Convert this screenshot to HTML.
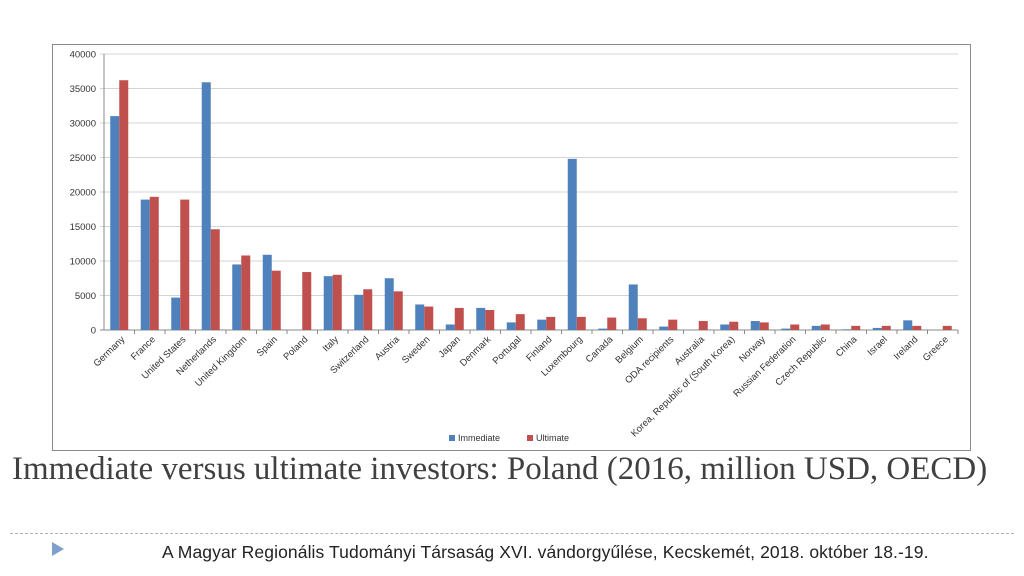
<!DOCTYPE html>
<html><head><meta charset="utf-8"><style>
body{margin:0;width:1024px;height:576px;background:#fff;overflow:hidden;position:relative;font-family:"Liberation Sans",sans-serif}
#title{position:absolute;left:12px;top:450px;font-family:"Liberation Serif",serif;font-size:33px;line-height:38px;color:#404040;width:1000px}
#dash{position:absolute;left:10px;top:533px;width:1004px;border-top:1px dashed #b0b0b0}
#tri{position:absolute;left:52px;top:542px;width:0;height:0;border-top:7px solid transparent;border-bottom:7px solid transparent;border-left:12px solid #7fa0cc}
#foot{position:absolute;left:162px;top:542px;font-size:17.5px;color:#222;letter-spacing:0.1px}
</style></head><body>
<svg id="chart" width="1024" height="460" style="position:absolute;left:0;top:0"></svg>
<div id="title">Immediate versus ultimate investors: Poland (2016, million USD, OECD)</div>
<div id="dash"></div>
<div id="tri"></div>
<div id="foot">A Magyar Regionális Tudományi Társaság XVI. vándorgyűlése, Kecskemét, 2018. október 18.-19.</div>
<script>
const categories=["Germany","France","United States","Netherlands","United Kingdom","Spain","Poland","Italy","Switzerland","Austria","Sweden","Japan","Denmark","Portugal","Finland","Luxembourg","Canada","Belgium","ODA recipients","Australia","Korea, Republic of (South Korea)","Norway","Russian Federation","Czech Republic","China","Israel","Ireland","Greece"];
const immediate=[31000,18900,4700,35900,9500,10900,0,7800,5100,7500,3700,800,3200,1100,1500,24800,200,6600,500,0,800,1300,200,600,100,300,1400,0];
const ultimate=[36200,19300,18900,14600,10800,8600,8400,8000,5900,5600,3400,3200,2900,2300,1900,1900,1800,1700,1500,1300,1200,1100,800,800,600,600,600,600];
const ticks=[0,5000,10000,15000,20000,25000,30000,35000,40000];
const NS="http://www.w3.org/2000/svg";
const svg=document.getElementById('chart');
const x0=104,x1=958,y0=330,yTop=54,maxV=40000;
const bw=(x1-x0)/categories.length;
function y(v){return y0-(v/maxV)*(y0-yTop);}
function xc(i){return x0+bw*(i+0.5);}
function mk(t,a,p){const e=document.createElementNS(NS,t);for(const k in a)e.setAttribute(k,a[k]);(p||svg).appendChild(e);return e;}
const frame=mk('rect',{x:52.5,y:44.5,width:918,height:406,fill:'#fff',stroke:'#8a8a8a'});


ticks.forEach(t=>{
  const g=mk('line',{x1:x0-4,x2:x1,y1:y(t),y2:y(t),stroke:t===0?'#888':'#d4d4d4'});
  
  
  const tx=mk('text',{x:x0-8,y:y(t)+3.5,'text-anchor':'end','font-size':9.5,fill:'#333'});
  tx.textContent=t;
  
  
});
const ax=mk('line',{x1:x0,x2:x0,y1:yTop,y2:y0,stroke:'#888'});


categories.forEach((c,i)=>{
  const cx=xc(i);
  const tk=mk('line',{x1:x0+bw*(i+1),x2:x0+bw*(i+1),y1:y0,y2:y0+4,stroke:'#888'});
  
  
  const b1=mk('rect',{x:cx-9,y:y(immediate[i]),width:9,height:y0-y(immediate[i]),fill:'#4f81bd'});
  
  
  const b2=mk('rect',{x:cx,y:y(ultimate[i]),width:9,height:y0-y(ultimate[i]),fill:'#c0504d'});
  
  
  const lx=cx+6,ly=y0+10;
  const t=mk('text',{x:lx,y:ly,'text-anchor':'end','font-size':9.5,fill:'#333',transform:`rotate(-44 ${lx} ${ly})`});
  t.textContent=c;
  
  
});
[["Immediate",'#4f81bd',449],["Ultimate",'#c0504d',527]].forEach(([n,col,lx])=>{
  const r=mk('rect',{x:lx,y:435,width:6,height:6,fill:col});
  
  
  const t=mk('text',{x:lx+9,y:441,'font-size':9,fill:'#333'});
  t.textContent=n;
  
  
});
</script>
</body></html>
